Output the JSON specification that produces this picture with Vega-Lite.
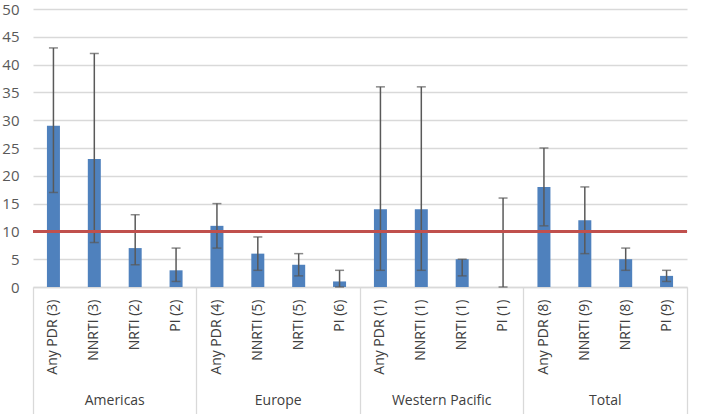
{
  "$schema": "https://vega.github.io/schema/vega-lite/v6.json",
  "width": 654,
  "height": 278,
  "autosize": "none",
  "padding": {"left": 33, "top": 9, "right": 22, "bottom": 127},
  "background": "white",
  "config": {
    "view": {"stroke": null},
    "font": "Open Sans",
    "axisY": {
      "domain": false, "ticks": false, "labelPadding": 14, "labelFontSize": 15,
      "labelColor": "#595959", "gridColor": "#d9d9d9", "gridWidth": 1.3, "title": null,
      "labelOverlap": false
    }
  },
  "data": {
    "values": [
      {"region": "Americas", "label": "Any PDR (3)", "value": 29, "low": 17, "high": 43},
      {"region": "Americas", "label": "NNRTI (3)", "value": 23, "low": 8, "high": 42},
      {"region": "Americas", "label": "NRTI (2)", "value": 7, "low": 4, "high": 13},
      {"region": "Americas", "label": "PI (2)", "value": 3, "low": 1, "high": 7},
      {"region": "Europe", "label": "Any PDR (4)", "value": 11, "low": 7, "high": 15},
      {"region": "Europe", "label": "NNRTI (5)", "value": 6, "low": 3, "high": 9},
      {"region": "Europe", "label": "NRTI (5)", "value": 4, "low": 2, "high": 6},
      {"region": "Europe", "label": "PI (6)", "value": 1, "low": 0, "high": 3},
      {"region": "Western Pacific", "label": "Any PDR (1)", "value": 14, "low": 3, "high": 36},
      {"region": "Western Pacific", "label": "NNRTI (1)", "value": 14, "low": 3, "high": 36},
      {"region": "Western Pacific", "label": "NRTI (1)", "value": 5, "low": 2, "high": 5},
      {"region": "Western Pacific", "label": "PI (1)", "value": 0, "low": 0, "high": 16},
      {"region": "Total", "label": "Any PDR (8)", "value": 18, "low": 11, "high": 25},
      {"region": "Total", "label": "NNRTI (9)", "value": 12, "low": 6, "high": 18},
      {"region": "Total", "label": "NRTI (8)", "value": 5, "low": 3, "high": 7},
      {"region": "Total", "label": "PI (9)", "value": 2, "low": 1, "high": 3}
    ]
  },
  "resolve": {"axis": {"x": "independent"}},
  "layer": [
    {
      "mark": {"type": "bar", "color": "#4f81bd", "size": 13},
      "encoding": {
        "x": {
          "field": "label", "type": "nominal", "sort": null,
          "scale": {"paddingInner": 0, "paddingOuter": 0},
          "axis": {
            "orient": "bottom", "title": null, "labelAngle": -90, "ticks": false,
            "labelPadding": 12, "labelFontSize": 14, "labelColor": "#404040",
            "domain": true, "domainColor": "#d9d9d9", "domainWidth": 1.3, "grid": false
          }
        },
        "y": {
          "field": "value", "type": "quantitative",
          "scale": {"domain": [0, 50], "nice": false},
          "axis": {"values": [0, 5, 10, 15, 20, 25, 30, 35, 40, 45, 50], "title": null}
        }
      }
    },
    {
      "mark": {"type": "rule", "color": "#595959", "strokeWidth": 1.5},
      "encoding": {
        "x": {
          "field": "label", "type": "nominal", "sort": null,
          "axis": {
            "orient": "bottom", "title": null, "labels": false, "domain": false, "grid": false,
            "bandPosition": 0, "tickSize": 127, "tickColor": "#d9d9d9", "tickWidth": 1.3,
            "tickOpacity": {"condition": {"test": "indexof(datum.value, 'Any PDR') == 0", "value": 1}, "value": 0}
          }
        },
        "y": {
          "field": "low", "type": "quantitative",
          "axis": {"values": [0, 5, 10, 15, 20, 25, 30, 35, 40, 45, 50], "title": null}
        },
        "y2": {"field": "high"}
      }
    },
    {
      "mark": {"type": "tick", "color": "#595959", "size": 9, "thickness": 1.5},
      "encoding": {
        "x": {
          "field": "label", "type": "nominal", "sort": null,
          "axis": {
            "orient": "bottom", "title": null, "domain": false, "grid": false,
            "bandPosition": 1, "tickSize": 127, "tickColor": "#d9d9d9", "tickWidth": 1.3,
            "tickOpacity": {"condition": {"test": "datum.value == 'PI (9)'", "value": 1}, "value": 0},
            "labelAngle": 0, "labelAlign": "center", "labelBaseline": "top",
            "labelPadding": -21, "labelOffset": 20.44, "labelFontSize": 14, "labelColor": "#404040",
            "labelOverlap": false,
            "labelExpr": "datum.value == 'NNRTI (3)' ? 'Americas' : datum.value == 'NNRTI (5)' ? 'Europe' : datum.value == 'NNRTI (1)' ? 'Western Pacific' : datum.value == 'NNRTI (9)' ? 'Total' : ''"
          }
        },
        "y": {
          "field": "low", "type": "quantitative",
          "axis": {"values": [0, 5, 10, 15, 20, 25, 30, 35, 40, 45, 50], "title": null}
        }
      }
    },
    {
      "mark": {"type": "tick", "color": "#595959", "size": 9, "thickness": 1.5},
      "encoding": {
        "x": {"field": "label", "type": "nominal", "sort": null, "axis": null},
        "y": {
          "field": "high", "type": "quantitative",
          "axis": {"values": [0, 5, 10, 15, 20, 25, 30, 35, 40, 45, 50], "title": null}
        }
      }
    },
    {
      "mark": {"type": "rule", "color": "#c0504d", "strokeWidth": 3},
      "encoding": {
        "y": {
          "datum": 10, "type": "quantitative",
          "axis": {"values": [0, 5, 10, 15, 20, 25, 30, 35, 40, 45, 50], "title": null}
        }
      }
    }
  ]
}
